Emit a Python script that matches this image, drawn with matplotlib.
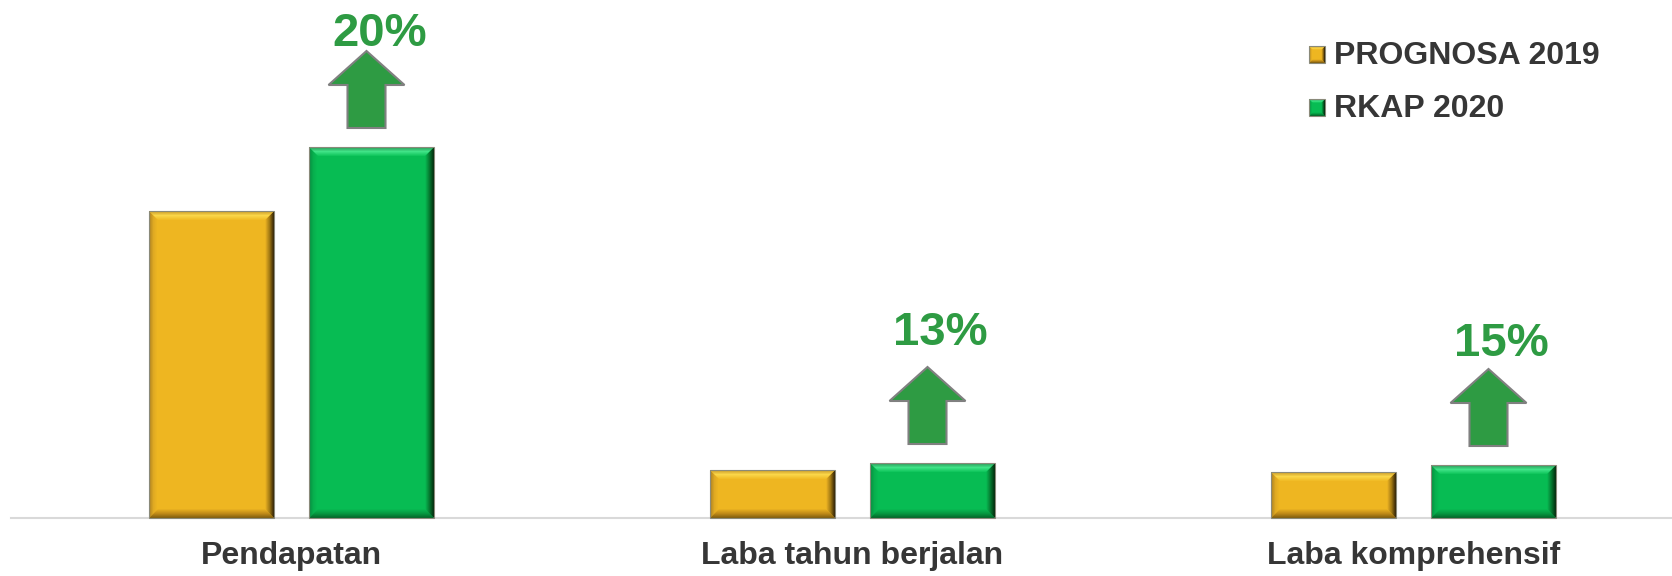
import matplotlib.pyplot as plt
from matplotlib.patches import Polygon, Rectangle, FancyArrow
from matplotlib.colors import to_rgb
import numpy as np

plt.rcParams['font.family'] = ['Liberation Sans', 'DejaVu Sans']

# data (bar heights, arbitrary units)
categories = ['Pendapatan', 'Laba tahun berjalan', 'Laba komprehensif']
series = ['PROGNOSA 2019', 'RKAP 2020']
prognosa_2019 = [30.7, 4.8, 4.6]
rkap_2020 = [37.1, 5.5, 5.3]
growth_labels = ['20%', '13%', '15%']

# layout
W, H = 1672, 576
GROUP_PX = 561          # pixels between category centres
PX = 1 / GROUP_PX       # one pixel in x data units
PY = 0.1                # one pixel in y data units
pct_gap_px = [101, 118, 109]   # baseline of % label above green bar

YEL = '#EEB621'
GRN = '#07BC53'
ARROW = '#2E9B43'
TXT = '#363636'

bevel_yel = {
    'top': ['#CFA02C', '#FAD649', '#F1BD28'],
    'right': ['#3A2906', '#A27914', '#E8B021'],
    'bottom': ['#85610F', '#BF8A18', '#E6AE20'],
    'left': ['#B08422', '#DFA922', '#EEB621'],
}
bevel_grn = {
    'top': ['#2E9F5C', '#40E387', '#12C75E'],
    'right': ['#02300F', '#05772F', '#07B650'],
    'bottom': ['#036A2A', '#05973F', '#07B650'],
    'left': ['#078E40', '#07AF4D', '#07BC53'],
}


def ramp(stops, t):
    cs = [np.array(to_rgb(c)) for c in stops]
    if t <= 0.5:
        return cs[0] + (cs[1] - cs[0]) * (t / 0.5)
    return cs[1] + (cs[2] - cs[1]) * ((t - 0.5) / 0.5)


def bevel(ax, x0, y0, x1, y1, cols, n=9, px=PX, py=PY, z=3):
    for k in range(n):
        t = k / (n - 1)
        a, b = k, k + 1
        sides = {
            'top': [(x0 + a*px, y1 - a*py), (x1 - a*px, y1 - a*py),
                    (x1 - b*px, y1 - b*py), (x0 + b*px, y1 - b*py)],
            'bottom': [(x0 + a*px, y0 + a*py), (x1 - a*px, y0 + a*py),
                       (x1 - b*px, y0 + b*py), (x0 + b*px, y0 + b*py)],
            'left': [(x0 + a*px, y0 + a*py), (x0 + b*px, y0 + b*py),
                     (x0 + b*px, y1 - b*py), (x0 + a*px, y1 - a*py)],
            'right': [(x1 - a*px, y0 + a*py), (x1 - b*px, y0 + b*py),
                      (x1 - b*px, y1 - b*py), (x1 - a*px, y1 - a*py)],
        }
        for side in ['left', 'bottom', 'right', 'top']:
            ax.add_patch(Polygon(sides[side], closed=True, fc=ramp(cols[side], t),
                                 ec='none', lw=0, zorder=z, clip_on=False))
    ax.add_patch(Rectangle((x0, y0), x1 - x0, y1 - y0, fill=False, ec='#8A8A7A',
                           lw=0.8, zorder=z + 1, clip_on=False))


fig = plt.figure(figsize=(W / 100, H / 100), dpi=100)
ax = fig.add_axes([11 / W, 58 / H, (W - 11) / W, 518 / H])
ax.set_xlim(-0.5, -0.5 + (W - 11) / GROUP_PX)
ax.set_ylim(0, 518 * PY)

x = np.arange(len(categories))
bw = 125 * PX
off = 80 * PX

bars1 = ax.bar(x - off, prognosa_2019, bw, color=YEL, zorder=2)
bars2 = ax.bar(x + off, rkap_2020, bw, color=GRN, zorder=2)

for bars, cols in [(bars1, bevel_yel), (bars2, bevel_grn)]:
    for r in bars:
        bevel(ax, r.get_x(), r.get_y(), r.get_x() + r.get_width(), r.get_height(), cols)

# growth arrows and percentages
for i, r in enumerate(bars2):
    xc = r.get_x() + r.get_width() / 2
    top = r.get_height()
    ax.add_patch(FancyArrow(xc - 5 * PX, top + 19 * PY, 0, 77 * PY,
                            width=38 * PX, head_width=76 * PX, head_length=34 * PY,
                            length_includes_head=True, fc=ARROW, ec='#808080',
                            lw=1.5, zorder=3, clip_on=False))
    ax.text(xc + 8 * PX, top + pct_gap_px[i] * PY, growth_labels[i], ha='center',
            va='baseline', fontsize=34, fontweight='bold', color=ARROW)

# category labels
for xi, cat in zip(x, categories):
    ax.text(xi, -46 * PY, cat, ha='center', va='baseline', fontsize=23,
            fontweight='bold', color=TXT, clip_on=False)


# legend drawn by hand
def px2x(p):
    return -0.5 + (p - 11) * PX


def px2y(p):
    return (518 - p) * PY


for j, (name, cols) in enumerate(zip(series, [bevel_yel, bevel_grn])):
    top_px = 46 + 53 * j
    face = YEL if j == 0 else GRN
    ax.add_patch(Rectangle((px2x(1309), px2y(top_px + 17)), 16 * PX, 17 * PY,
                           fc=face, ec='none', zorder=2, clip_on=False))
    bevel(ax, px2x(1309), px2y(top_px + 17), px2x(1325), px2y(top_px), cols, n=4)
    ax.text(px2x(1334), px2y(top_px + 18), name, ha='left', va='baseline',
            fontsize=23, fontweight='bold', color=TXT)

for s in ['top', 'right', 'left']:
    ax.spines[s].set_visible(False)
ax.spines['bottom'].set_color('#D9D9D9')
ax.spines['bottom'].set_linewidth(1.5)
ax.set_xticks([])
ax.set_yticks([])

fig.savefig('out.png', dpi=100)
